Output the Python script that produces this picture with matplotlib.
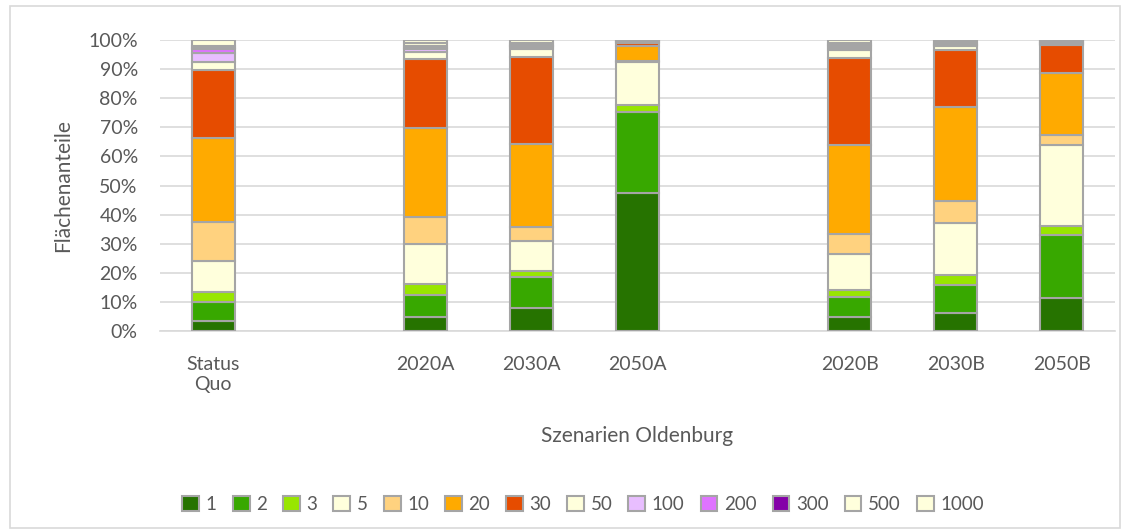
# Flächenanteile je Szenario, gestapelte Säulen (100 %)
import numpy as np
import matplotlib.pyplot as plt
from matplotlib.patches import Rectangle

plt.rcParams['font.family'] = ['Lato', 'DejaVu Sans']

# Kategorien (leere Plätze trennen die Szenariogruppen)
categories = ['Status\nQuo', '', '2020A', '2030A', '2050A', '', '2020B', '2030B', '2050B']
classes = ['1', '2', '3', '5', '10', '20', '30', '50', '100', '200', '300', '500', '1000']

# Anteile in % je Szenario (Reihenfolge wie classes)
status_quo = [3.4, 6.5, 3.6, 10.7, 13.2, 28.8, 23.5, 2.8, 3.1, 1.3, 0.3, 0.8, 2.0]
s2020a = [4.9, 7.5, 3.6, 13.9, 9.4, 30.4, 23.8, 2.5, 1.0, 0.3, 0.7, 0.8, 1.2]
s2030a = [7.8, 10.9, 2.0, 10.3, 4.8, 28.4, 30.1, 2.5, 0.8, 0.5, 0.3, 0.4, 1.2]
s2050a = [47.5, 27.9, 2.3, 14.6, 0.6, 5.1, 0.9, 0.2, 0.1, 0.1, 0.3, 0.2, 0.2]
s2020b = [4.7, 6.9, 2.5, 12.3, 6.8, 30.7, 29.8, 2.9, 0.8, 0.6, 0.4, 0.5, 1.1]
s2030b = [6.3, 9.5, 3.4, 17.8, 7.8, 32.3, 19.5, 1.2, 0.4, 0.2, 0.3, 0.5, 0.8]
s2050b = [11.5, 21.5, 3.1, 27.8, 3.5, 21.4, 9.5, 0.3, 0.2, 0.1, 0.4, 0.3, 0.4]

colors = ['#267300', '#38A800', '#98E600', '#FFFFDC', '#FFD27F', '#FFAA00', '#E64C00',
          '#FFFFDC', '#E8BEFF', '#DF73FF', '#8400A8', '#FFFFDC', '#FFFFDC']

# Spalten ohne Daten bleiben leer
empty = [0] * len(classes)
table = np.array([status_quo, empty, s2020a, s2030a, s2050a, empty, s2020b, s2030b, s2050b]) / 100.0
has_bar = [True, False, True, True, True, False, True, True, True]

fig = plt.figure(figsize=(11.3, 5.32), dpi=100)
ax = fig.add_axes([0.1416, 0.3778, 0.8451, 0.5470])

x = np.arange(len(categories))
xb = x[has_bar]
bottom = np.zeros(len(xb))
for i, cls in enumerate(classes):
    vals = table[has_bar, i]
    ax.bar(xb, vals, 0.405, bottom=bottom, color=colors[i], edgecolor='#A5A5A5',
           linewidth=1.5, label=cls, zorder=3)
    bottom += vals

ax.set_xlim(-0.5, len(categories) - 0.5)
ax.set_ylim(0, 1)
ax.set_yticks(np.arange(0, 1.01, 0.1))
ax.set_yticklabels([f'{int(round(v * 100))}%' for v in np.arange(0, 1.01, 0.1)])
ax.set_xticks(x)
ax.set_xticklabels(categories)
ax.tick_params(axis='both', length=0, labelsize=14, colors='#595959')
ax.tick_params(axis='y', pad=16)
ax.tick_params(axis='x', pad=18)
ax.grid(axis='y', color='#D9D9D9', linewidth=1.2, zorder=0)
for s in ['top', 'right', 'left']:
    ax.spines[s].set_visible(False)
ax.spines['bottom'].set_color('#D9D9D9')
ax.spines['bottom'].set_linewidth(1.2)

ax.set_ylabel('Flächenanteile', fontsize=15, color='#595959', labelpad=11)
ax.set_xlabel('Szenarien Oldenburg', fontsize=15, color='#595959', labelpad=24)

fig.legend(loc='center', bbox_to_anchor=(0.516, 0.052), ncol=13, frameon=False,
           fontsize=13.5, labelcolor='#595959', handlelength=0.9, handleheight=0.9,
           handletextpad=0.35, columnspacing=0.85)

# Rahmen um das Diagramm
fig.patches.append(Rectangle((10 / 1130, 4 / 532), 1110 / 1130, 522 / 532, transform=fig.transFigure,
                             fill=False, edgecolor='#D9D9D9', linewidth=1.2))

fig.savefig('out.png', dpi=100)
